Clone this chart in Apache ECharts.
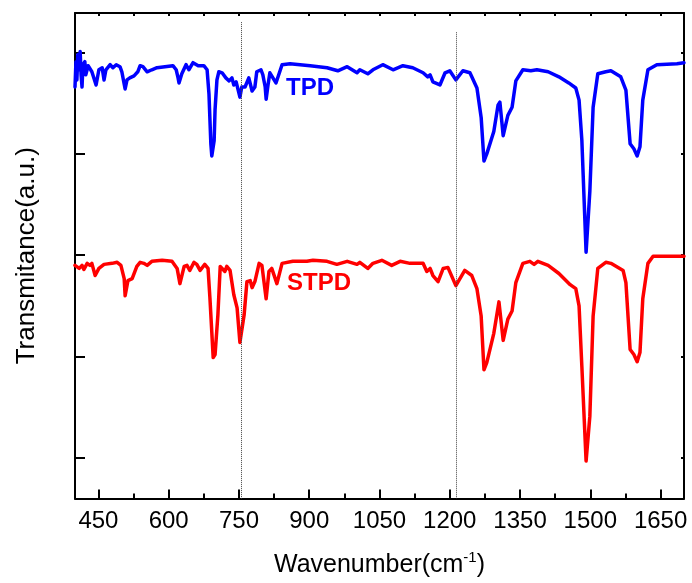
<!DOCTYPE html>
<html>
<head>
<meta charset="utf-8">
<script src="https://cdn.jsdelivr.net/npm/echarts@6/dist/echarts.min.js"></script>
<style>
html,body{margin:0;padding:0;background:#fff;}
#chart{width:692px;height:583px;}
</style>
</head>
<body>
<div id="chart"></div>
<script>
// Wavenumber (cm-1) and transmittance (a.u.)
const tpdWavenumber = [400,402,404,406,409,411,413,415,417,421,423,428,432,436,445,451,458,462,466,475,481,488,496,500,507,511,517,526,534,539,545,554,564,575,592,609,616,620,622,628,637,643,652,663,675,682,686,688,690,692,697,699,703,707,714,722,729,735,739,744,752,756,763,771,778,784,788,797,801,806,808,812,816,829,842,859,902,938,961,981,1002,1008,1025,1036,1057,1079,1100,1121,1143,1153,1158,1164,1179,1190,1200,1213,1228,1243,1247,1258,1267,1273,1279,1294,1303,1307,1314,1324,1333,1341,1356,1373,1386,1410,1433,1454,1469,1476,1482,1491,1499,1506,1516,1533,1544,1565,1576,1585,1593,1600,1606,1612,1623,1642,1685,1700];
const tpdValues = [366,391,373,398,383,401,378,366,388,391,378,387,387,381,368,383,385,373,383,388,385,388,386,381,364,373,375,377,381,387,386,381,383,385,386,387,383,375,370,379,388,383,390,387,387,383,359,334,310,298,313,344,373,381,380,375,372,375,368,371,356,366,366,375,362,366,381,383,378,366,354,368,380,370,388,389,387,385,382,386,380,383,379,383,388,383,387,385,380,376,378,371,368,380,382,373,382,380,376,365,336,293,300,322,348,351,318,338,346,372,383,382,383,381,376,370,365,353,313,203,263,346,379,381,382,376,363,310,305,298,307,353,383,388,389,390];

const stpdWavenumber = [400,409,415,419,426,432,436,443,451,462,479,490,498,505,507,513,522,532,539,547,554,564,586,607,618,624,633,639,645,654,660,667,677,684,688,695,699,705,710,720,724,731,739,746,752,761,767,774,778,784,793,799,808,814,820,831,842,865,895,908,938,959,981,1002,1008,1025,1036,1055,1076,1094,1115,1143,1151,1158,1164,1175,1186,1196,1213,1232,1247,1258,1267,1273,1279,1294,1305,1314,1324,1333,1341,1356,1371,1380,1388,1410,1433,1457,1469,1476,1482,1491,1499,1506,1516,1533,1544,1570,1576,1585,1593,1600,1606,1612,1623,1634,1700];
const stpdValues = [190,187,190,186,192,190,192,180,187,191,192,193,190,177,160,175,177,189,193,192,190,194,195,194,187,172,189,190,185,193,191,185,191,187,158,99,102,141,189,184,189,185,161,148,114,141,174,175,168,174,192,190,157,184,187,172,192,194,194,195,194,191,194,191,193,187,192,195,190,194,192,192,184,187,180,174,187,188,170,185,180,167,140,87,94,123,154,116,137,145,173,192,194,191,194,190,182,171,167,150,90,-3,41,140,187,193,192,185,173,107,102,95,104,157,192,199,199];

const xTickLabels = [450,600,750,900,1050,1200,1350,1500,1650];
const xMinorTicks = [525,675,825,975,1125,1275,1425,1575];
const yTicks = [0,100,200,300,400];
const guideLines = [754,1213];
const seriesNames = ['TPD','STPD'];

function pairs(xs, ys){ return xs.map((x,i)=>[x, ys[i]]); }

const font = "'Liberation Sans', Arial, sans-serif";
const chart = echarts.init(document.getElementById('chart'), null, {renderer:'canvas'});
const axisLine = {show:true, onZero:false, lineStyle:{color:'#000', width:2}};
const allX = xTickLabels.concat(xMinorTicks).sort((a,b)=>a-b);

chart.setOption({
  animation:false,
  backgroundColor:'#fff',
  grid:{left:75, right:8, top:13, bottom:81},
  xAxis:[
    {type:'value', min:400, max:1700, position:'bottom',
     axisLine:axisLine, splitLine:{show:false},
     axisTick:{show:true, inside:true, length:9, lineStyle:{color:'#000', width:2}, customValues:xTickLabels},
     axisLabel:{show:true, customValues:xTickLabels, formatter:(v)=>String(v), color:'#000', fontSize:24, fontFamily:font, margin:11},
     name:'{a|Wavenumber(cm}{s|-1}{a|)}', nameLocation:'middle', nameGap:52,
     nameTextStyle:{rich:{a:{fontSize:25, fontFamily:font, color:'#000', lineHeight:30}, s:{fontSize:15, fontFamily:font, color:'#000', lineHeight:16, verticalAlign:'top'}}}
    },
    {type:'value', min:400, max:1700, position:'bottom',
     axisLine:{show:false, onZero:false}, splitLine:{show:false},
     axisTick:{show:true, inside:true, length:5, lineStyle:{color:'#000', width:2}, customValues:xMinorTicks},
     axisLabel:{show:false}
    },
    {type:'value', min:400, max:1700, position:'top',
     axisLine:axisLine, splitLine:{show:false},
     axisTick:{show:true, inside:true, length:3, lineStyle:{color:'#000', width:2}, customValues:allX},
     axisLabel:{show:false}
    }
  ],
  yAxis:[
    {type:'value', min:-40, max:439, position:'left',
     axisLine:axisLine, splitLine:{show:false},
     axisTick:{show:true, inside:true, length:10, lineStyle:{color:'#000', width:2}, customValues:yTicks},
     axisLabel:{show:false},
     name:'Transmitance(a.u.)', nameLocation:'middle', nameGap:35, nameRotate:90,
     nameTextStyle:{fontSize:26, fontFamily:font, color:'#000'}
    },
    {type:'value', min:-40, max:439, position:'right',
     axisLine:axisLine, splitLine:{show:false},
     axisTick:{show:true, inside:true, length:3, lineStyle:{color:'#000', width:2}, customValues:yTicks},
     axisLabel:{show:false}
    }
  ],
  series:[
    {name:seriesNames[0], type:'line', data:pairs(tpdWavenumber,tpdValues), showSymbol:false, symbol:'none',
     lineStyle:{color:'#0000ff', width:3.5, join:'round', cap:'round'}, itemStyle:{color:'#0000ff'}, z:3,
     markLine:{silent:true, symbol:'none', label:{show:false},
       lineStyle:{color:'#444', type:'dotted', width:1},
       data:[
         [{coord:[guideLines[0],430]},{coord:[guideLines[0],-40]}],
         [{coord:[guideLines[1],420]},{coord:[guideLines[1],-40]}]
       ]}
    },
    {name:seriesNames[1], type:'line', data:pairs(stpdWavenumber,stpdValues), showSymbol:false, symbol:'none',
     lineStyle:{color:'#ff0000', width:3.5, join:'round', cap:'round'}, itemStyle:{color:'#ff0000'}, z:3}
  ],
  graphic:[
    {type:'text', left:286, top:76, style:{text:seriesNames[0], fill:'#0000ff', font:"bold 24px 'Liberation Sans', Arial, sans-serif"}},
    {type:'text', left:287, top:271, style:{text:seriesNames[1], fill:'#ff0000', font:"bold 24px 'Liberation Sans', Arial, sans-serif"}}
  ]
});
</script>
</body>
</html>
